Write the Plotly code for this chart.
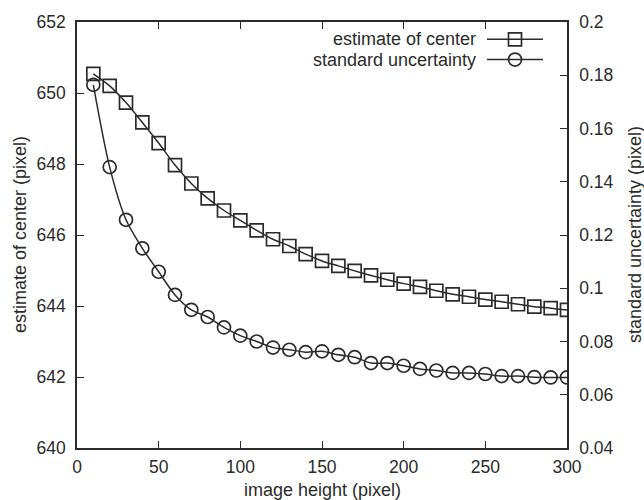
import plotly.graph_objects as go

# ---- data ----
image_height = [10, 20, 30, 40, 50, 60, 70, 80, 90, 100, 110, 120, 130, 140, 150,
                160, 170, 180, 190, 200, 210, 220, 230, 240, 250, 260, 270, 280, 290, 300]
estimate_center = [650.54, 650.20, 649.73, 649.17, 648.59, 647.97, 647.45, 647.03, 646.69, 646.41,
                   646.13, 645.88, 645.69, 645.46, 645.27, 645.13, 644.99, 644.86, 644.74, 644.63,
                   644.54, 644.43, 644.33, 644.26, 644.18, 644.12, 644.05, 643.98, 643.94, 643.89]
std_uncertainty = [0.1764, 0.1455, 0.1257, 0.1150, 0.1062, 0.0975, 0.0919, 0.0892, 0.0853, 0.0822,
                   0.0800, 0.0777, 0.0769, 0.0760, 0.0763, 0.0750, 0.0741, 0.0719, 0.0719, 0.0709,
                   0.0697, 0.0691, 0.0682, 0.0682, 0.0678, 0.0670, 0.0670, 0.0666, 0.0665, 0.0665]
series_names = ["estimate of center", "standard uncertainty"]
series_symbols = ["square-open", "circle-open"]

INK = "#2b2b2b"
FONT = "Liberation Sans, Arial, Helvetica, sans-serif"
FS = 18
TFS = 17.5

L, R, T, B = 77, 77, 17, 52
W, H = 644, 500
pw, ph = W - L - R, H - T - B

fig = go.Figure()
fig.add_trace(go.Scatter(
    x=image_height, y=estimate_center, mode="lines+markers", name=series_names[0],
    line=dict(color=INK, width=1.5, shape="spline", smoothing=0.8),
    marker=dict(symbol=series_symbols[0], size=13, color=INK, line=dict(width=1.7, color=INK)),
    xaxis="x", yaxis="y", showlegend=False))
fig.add_trace(go.Scatter(
    x=image_height, y=std_uncertainty, mode="lines+markers", name=series_names[1],
    line=dict(color=INK, width=1.5, shape="spline", smoothing=0.8),
    marker=dict(symbol=series_symbols[1], size=13, color=INK, line=dict(width=1.7, color=INK)),
    xaxis="x", yaxis="y2", showlegend=False))

# ---- custom gnuplot-style legend (text left, sample right) ----
def px_to_paper_x(px):
    return (px - L) / pw

def py_to_paper_y(py):
    return 1 - (py - T) / ph

leg_rows_y = [34.5, 55.0]
text_right = 478
line_x0, line_x1, sym_x = 487, 543, 515
for name, sym, ry in zip(series_names, series_symbols, leg_rows_y):
    fig.add_annotation(x=px_to_paper_x(text_right), y=py_to_paper_y(ry), xref="paper", yref="paper",
                       text=name, showarrow=False, xanchor="right", yanchor="middle",
                       font=dict(family=FONT, size=FS, color=INK))
    fig.add_shape(type="line", xref="paper", yref="paper",
                  x0=px_to_paper_x(line_x0), x1=px_to_paper_x(line_x1),
                  y0=py_to_paper_y(ry), y1=py_to_paper_y(ry),
                  line=dict(color=INK, width=1.5))
    fig.add_trace(go.Scatter(
        x=[px_to_paper_x(sym_x)], y=[py_to_paper_y(ry)], mode="markers",
        marker=dict(symbol=sym, size=13, color=INK, line=dict(width=1.7, color=INK)),
        xaxis="x3", yaxis="y3", showlegend=False, hoverinfo="skip"))

axis_common = dict(showline=True, linecolor=INK, linewidth=1.5, ticks="inside", ticklen=7,
                   tickcolor=INK, tickwidth=1.2, showgrid=False, zeroline=False,
                   tickfont=dict(family=FONT, size=TFS, color=INK))

fig.update_layout(
    width=W, height=H, margin=dict(l=L, r=R, t=T, b=B, pad=0),
    paper_bgcolor="white", plot_bgcolor="white", showlegend=False,
    xaxis=dict(range=[0, 300], dtick=50, mirror="ticks", ticklabelstandoff=2, **axis_common),
    yaxis=dict(range=[640, 652], dtick=2, mirror=False, ticklabelstandoff=6, **axis_common),
    yaxis2=dict(range=[0.04, 0.2], dtick=0.02, overlaying="y", side="right",
                ticklabelstandoff=7, **axis_common),
    xaxis3=dict(range=[0, 1], overlaying="x", visible=False),
    yaxis3=dict(range=[0, 1], overlaying="y", visible=False),
)

# axis titles as annotations
fig.add_annotation(x=0.5, y=py_to_paper_y(490), xref="paper", yref="paper",
                   text="image height (pixel)", showarrow=False, yanchor="middle",
                   font=dict(family=FONT, size=FS, color=INK))
fig.add_annotation(x=px_to_paper_x(20), y=0.5, xref="paper", yref="paper",
                   text="estimate of center (pixel)", textangle=-90, showarrow=False,
                   xanchor="center", yanchor="middle", font=dict(family=FONT, size=FS, color=INK))
fig.add_annotation(x=px_to_paper_x(635), y=0.5, xref="paper", yref="paper",
                   text="standard uncertainty (pixel)", textangle=-90, showarrow=False,
                   xanchor="center", yanchor="middle", font=dict(family=FONT, size=FS, color=INK))

fig.write_html("out.html")
